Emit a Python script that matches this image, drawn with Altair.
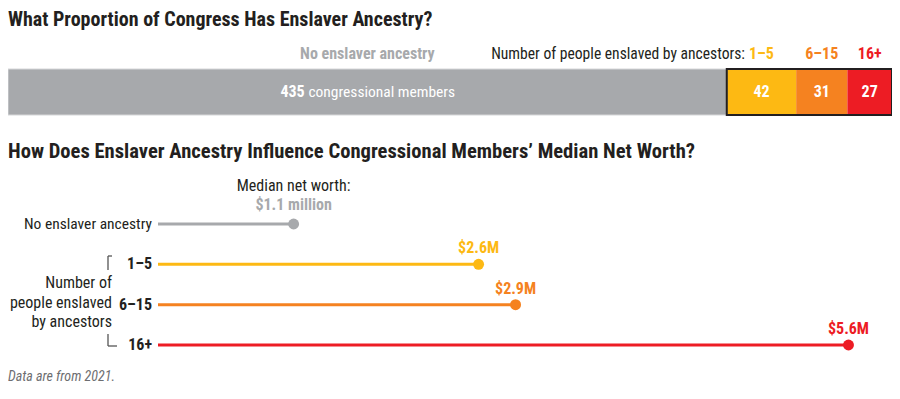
import altair as alt
import pandas as pd

# ---------------- data ----------------
categories = ["No enslaver ancestry", "1–5", "6–15", "16+"]
members = [435, 42, 31, 27]
net_worth = [1.1, 2.6, 2.9, 5.6]          # median net worth, $ millions
worth_labels = ["$1.1 million", "$2.6M", "$2.9M", "$5.6M"]
colors = ["#a7a9ac", "#fdb913", "#f58220", "#ed1c24"]

FONT = "Liberation Sans Narrow, Roboto Condensed, Arial Narrow, Roboto, sans-serif"
DARK = "#231f20"
W, H = 884, 383

bar_df = pd.DataFrame({"cat": categories, "n": members})
bar_df["end"] = bar_df["n"].cumsum()
bar_df["start"] = bar_df["end"] - bar_df["n"]
bar_df["mid"] = (bar_df["start"] + bar_df["end"]) / 2
bar_df["row"] = "all"
total = int(bar_df["end"].iloc[-1])
enslaver_start = int(bar_df["start"].iloc[1])
box_df = pd.DataFrame({"start": [enslaver_start], "end": [total], "row": ["all"]})

lol_df = pd.DataFrame({"cat": categories, "worth": net_worth, "lab": worth_labels, "base": [0] * 4})

color_enc = alt.Color("cat:N", scale=alt.Scale(domain=categories, range=colors), legend=None)

# ---------------- top: stacked bar ----------------
bx = alt.Scale(domain=[0, total], range=[0, W])
by = alt.Scale(type="band", domain=["all"], range=[61, 107], paddingInner=0, paddingOuter=0)

base_top = alt.Chart(bar_df)
bars = base_top.mark_rect().encode(
    x=alt.X("start:Q", scale=bx, axis=None),
    x2="end:Q",
    y=alt.Y("row:N", scale=by, axis=None),
    color=color_enc,
)
gray_edge = base_top.transform_filter(alt.datum.cat == categories[0]).mark_rect(
    fill=None, stroke="#d6d7d9", strokeWidth=1
).encode(x=alt.X("start:Q", scale=bx, axis=None), x2="end:Q", y=alt.Y("row:N", scale=by, axis=None))
box = alt.Chart(box_df).mark_rect(fill=None, stroke=DARK, strokeWidth=2).encode(
    x=alt.X("start:Q", scale=bx, axis=None), x2="end:Q", y=alt.Y("row:N", scale=by, axis=None)
)
top_labels = base_top.mark_text(font=FONT, fontSize=16, fontWeight="bold", baseline="alphabetic").encode(
    x=alt.X("mid:Q", scale=bx, axis=None), y=alt.value(51), text="cat:N", color=color_enc
)
num_labels = base_top.transform_filter(alt.datum.cat != categories[0]).mark_text(
    font=FONT, fontSize=16, fontWeight="bold", color="white", baseline="middle"
).encode(x=alt.X("mid:Q", scale=bx, axis=None), y=alt.Y("row:N", scale=by, axis=None), text="n:Q")
gray_num = base_top.transform_filter(alt.datum.cat == categories[0]).mark_text(
    font=FONT, fontSize=16, fontWeight="bold", color="white", baseline="middle", align="left", dx=-87
).encode(x=alt.X("mid:Q", scale=bx, axis=None), y=alt.Y("row:N", scale=by, axis=None), text="n:Q")
gray_txt = base_top.transform_filter(alt.datum.cat == categories[0]).mark_text(
    font=FONT, fontSize=15.5, color="white", baseline="middle", align="left", dx=-59
).encode(x=alt.X("mid:Q", scale=bx, axis=None), y=alt.Y("row:N", scale=by, axis=None),
         text=alt.value("congressional members"))

top = alt.layer(bars, gray_edge, box, top_labels, num_labels, gray_num, gray_txt)

# ---------------- bottom: lollipops ----------------
lx = alt.Scale(domain=[0, 6], range=[150, 150 + 6 * 123.3])
ly = alt.Scale(type="point", domain=categories, range=[216, 337], padding=0)

base_bot = alt.Chart(lol_df)
stems = base_bot.mark_rule(strokeWidth=3).encode(
    x=alt.X("base:Q", scale=lx, axis=None), x2="worth:Q",
    y=alt.Y("cat:N", scale=ly, axis=None), color=color_enc,
)
dots = base_bot.mark_circle(size=120, opacity=1).encode(
    x=alt.X("worth:Q", scale=lx, axis=None), y=alt.Y("cat:N", scale=ly, axis=None), color=color_enc
)
val_labels = base_bot.transform_filter(alt.datum.cat != categories[0]).mark_text(
    font=FONT, fontSize=16, fontWeight="bold", baseline="alphabetic", dy=-11
).encode(x=alt.X("worth:Q", scale=lx, axis=None), y=alt.Y("cat:N", scale=ly, axis=None),
         text="lab:N", color=color_enc)
gray_val = base_bot.transform_filter(alt.datum.cat == categories[0]).mark_text(
    font=FONT, fontSize=16, fontWeight="bold", baseline="alphabetic", dy=-14, color=colors[0]
).encode(x=alt.X("worth:Q", scale=lx, axis=None), y=alt.Y("cat:N", scale=ly, axis=None), text="lab:N")
gray_head = base_bot.transform_filter(alt.datum.cat == categories[0]).mark_text(
    font=FONT, fontSize=16, baseline="alphabetic", dy=-33, color=DARK
).encode(x=alt.X("worth:Q", scale=lx, axis=None), y=alt.Y("cat:N", scale=ly, axis=None),
         text=alt.value("Median net worth:"))
row_lab_plain = base_bot.transform_filter(alt.datum.cat == categories[0]).mark_text(
    font=FONT, fontSize=15.5, align="right", baseline="middle", color=DARK
).encode(x=alt.value(144), y=alt.Y("cat:N", scale=ly, axis=None), text="cat:N")
row_lab_bold = base_bot.transform_filter(alt.datum.cat != categories[0]).mark_text(
    font=FONT, fontSize=16, fontWeight="bold", align="right", baseline="middle", color=DARK
).encode(x=alt.value(144), y=alt.Y("cat:N", scale=ly, axis=None), text="cat:N")

bottom = alt.layer(stems, dots, val_labels, gray_val, gray_head, row_lab_plain, row_lab_bold)

# ---------------- annotations ----------------
one = alt.Data(values=[{"k": 1}])


def label(text, x, y, size=16, weight="normal", color=DARK, align="left", style="normal", lb=None):
    kw = dict(align=align, baseline="alphabetic", fontSize=size, fontWeight=weight,
              color=color, font=FONT, fontStyle=style)
    if lb:
        kw.update(lineBreak="\n", lineHeight=19.5)
    return alt.Chart(one).mark_text(**kw).encode(
        x=alt.value(x), y=alt.value(y), text=alt.value(text)
    )


def seg(x1, y1, x2, y2):
    return alt.Chart(one).mark_rule(color="#555555", strokeWidth=1.3).encode(
        x=alt.value(x1), y=alt.value(y1), x2=alt.value(x2), y2=alt.value(y2)
    )


notes = alt.layer(
    label("What Proportion of Congress Has Enslaver Ancestry?", 0, 18, size=20, weight="bold"),
    label("How Does Enslaver Ancestry Influence Congressional Members’ Median Net Worth?", 0, 150, size=20.6, weight="bold"),
    label("Number of people enslaved by ancestors:", 737, 51, size=15.6, align="right"),
    label("Number of\npeople enslaved\nby ancestors", 104, 280, align="right", lb=True),
    label("Data are from 2021.", 0, 373, size=14, color="#6d6e71", style="italic"),
    seg(100, 248, 100, 262),
    seg(100, 248, 104, 248),
    seg(100, 326, 100, 338),
    seg(100, 338, 109, 338),
)

chart = alt.layer(top, bottom, notes).resolve_scale(
    x="independent", y="independent"
).properties(
    width=W, height=H, autosize=alt.AutoSizeParams(type="none"), padding=0
).configure_view(stroke=None)

chart.save("out.html", embed_options={"renderer": "svg", "actions": False})
